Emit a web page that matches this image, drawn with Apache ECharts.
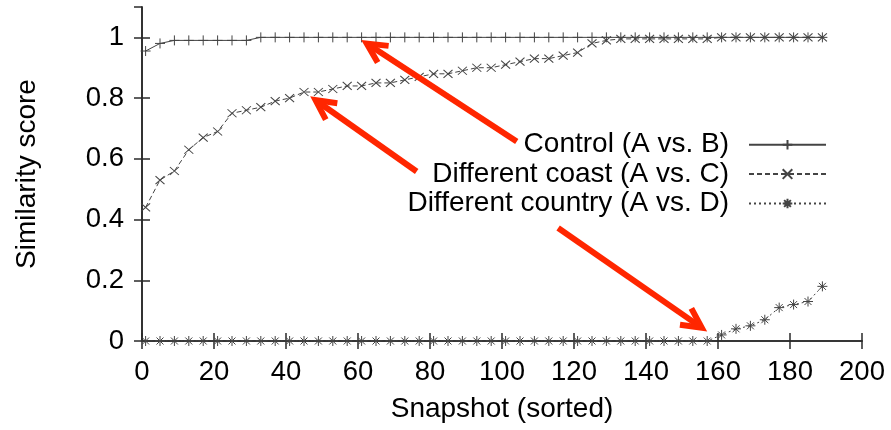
<!DOCTYPE html>
<html>
<head>
<meta charset="utf-8">
<script src="https://cdn.jsdelivr.net/npm/echarts@6/dist/echarts.min.js"></script>
<style>
html,body{margin:0;padding:0;background:#fff;}
#chart{width:891px;height:430px;}
</style>
</head>
<body>
<div id="chart"></div>
<script>
// ---- data ----
const snapshots = [1,5,9,13,17,21,25,29,33,37,41,45,49,53,57,61,65,69,73,77,81,85,89,93,97,101,105,109,113,117,121,125,129,133,137,141,145,149,153,157,161,165,169,173,177,181,185,189];
const controlAB = [0.955,0.98,0.99,0.99,0.99,0.99,0.99,0.99,1,1,
                   1,1,1,1,1,1,1,1,1,1,
                   1,1,1,1,1,1,1,1,1,1,
                   1,1,1,1,1,1,1,1,1,1,
                   1,1,1,1,1,1,1,1];
const coastAC = [0.44,0.53,0.56,0.63,0.67,0.69,0.75,0.76,0.77,0.79,
                 0.80,0.82,0.82,0.83,0.84,0.84,0.85,0.85,0.86,0.87,
                 0.88,0.88,0.89,0.90,0.90,0.91,0.92,0.93,0.93,0.94,
                 0.95,0.98,0.99,0.995,0.995,0.995,0.995,0.995,0.995,0.995,
                 1,1,1,1,1,1,1,1];
const countryAD = [0,0,0,0,0,0,0,0,0,0,
                   0,0,0,0,0,0,0,0,0,0,
                   0,0,0,0,0,0,0,0,0,0,
                   0,0,0,0,0,0,0,0,0,0,
                   0.02,0.04,0.05,0.07,0.11,0.12,0.13,0.18];
const seriesNames = ['Control (A vs. B)','Different coast (A vs. C)','Different country (A vs. D)'];
const xTicks = {min:0, max:200, interval:20};
const yTicks = {min:0, max:1.1, interval:0.2};
// annotation arrows in data space: [tailX, tailY, tipX, tipY]
const arrows = [
  [104.1, 0.657, 61.5, 0.987],
  [76.3, 0.558, 47.3, 0.801],
  [115.6, 0.372, 156.4, 0.036]
];

// ---- chart ----
const FONT = '"Liberation Sans", Arial, Helvetica, sans-serif';
const AX = '#2a2a2a';
const LINE = '#444';
const chart = echarts.init(document.getElementById('chart'), null, {renderer:'canvas'});

function pairs(ys){ return snapshots.map((x,i)=>[x, ys[i]]); }

const symPlus = 'path://M5,0L5,10M0,5L10,5';
const symCross = 'path://M0,0L10,10M10,0L0,10';
const symStar = 'path://M5,0L5,10M0,5L10,5M1.5,1.5L8.5,8.5M8.5,1.5L1.5,8.5';

function mkSeries(name, ys, sym, size, dash){
  return {
    name, type:'line', data: pairs(ys), xAxisIndex:0, yAxisIndex:0,
    symbol: sym, symbolSize: size, showSymbol:true, animation:false,
    lineStyle:{color:LINE, width:1, type: dash},
    itemStyle:{color:'rgba(0,0,0,0)', borderColor:'#444', borderWidth:1},
    emphasis:{disabled:true}
  };
}

const tickStyle = {show:true, inside:true, length:8, lineStyle:{color:AX, width:1.5}};
const lineStyleAx = {show:true, lineStyle:{color:AX, width:1.6}};

const option = {
  backgroundColor:'#fff',
  animation:false,
  grid:{left:142, right:29, top:7, bottom:89, containLabel:false},
  xAxis:[
    {type:'value', position:'bottom', min:xTicks.min, max:xTicks.max, interval:xTicks.interval,
     axisLine:lineStyleAx, axisTick:tickStyle, splitLine:{show:false},
     axisLabel:{color:'#000', fontSize:27.5, fontFamily:FONT, margin:17},
     name:'Snapshot (sorted)', nameLocation:'middle', nameGap:54,
     nameTextStyle:{color:'#000', fontSize:28, fontFamily:FONT}},
    {type:'value', position:'top', min:xTicks.min, max:xTicks.max, interval:xTicks.interval,
     axisLine:lineStyleAx, axisTick:tickStyle, splitLine:{show:false}, axisLabel:{show:false}}
  ],
  yAxis:[
    {type:'value', position:'left', min:yTicks.min, max:yTicks.max, interval:yTicks.interval,
     axisLine:lineStyleAx, axisTick:tickStyle, splitLine:{show:false},
     axisLabel:{color:'#000', fontSize:27.5, fontFamily:FONT, margin:18, showMaxLabel:false},
     name:'Similarity score', nameLocation:'middle', nameGap:101, nameRotate:90,
     nameTextStyle:{color:'#000', fontSize:28, fontFamily:FONT}},
    {type:'value', position:'right', min:yTicks.min, max:yTicks.max, interval:yTicks.interval,
     axisLine:lineStyleAx, axisTick:tickStyle, splitLine:{show:false}, axisLabel:{show:false}}
  ],
  legend:{
    orient:'vertical', right:64, top:130, padding:0, itemGap:0, align:'right',
    itemWidth:77, itemHeight:12, selectedMode:false,
    textStyle:{color:'#000', fontSize:28, fontFamily:FONT, lineHeight:29.4, padding:[0,15,0,0]},
    data: seriesNames
  },
  series:[
    mkSeries(seriesNames[0], controlAB, symPlus, 10, 'solid'),
    mkSeries(seriesNames[1], coastAC, symCross, [9,8], [5,3]),
    mkSeries(seriesNames[2], countryAD, symStar, 10, [2,3])
  ]
};
chart.setOption(option);

// annotation arrows (anchored to data coordinates)
function arrowGraphics(){
  const els = [];
  const RED = '#ff2600';
  const W = 6, HEAD = 22, ANG = 27 * Math.PI/180;
  arrows.forEach(a=>{
    const t = chart.convertToPixel({gridIndex:0}, [a[0], a[1]]);
    const p = chart.convertToPixel({gridIndex:0}, [a[2], a[3]]);
    const back = Math.atan2(t[1]-p[1], t[0]-p[0]);
    const tip = [p[0] + Math.cos(back)*4, p[1] + Math.sin(back)*4];
    const w1 = [tip[0] + Math.cos(back+ANG)*HEAD, tip[1] + Math.sin(back+ANG)*HEAD];
    const w2 = [tip[0] + Math.cos(back-ANG)*HEAD, tip[1] + Math.sin(back-ANG)*HEAD];
    els.push({type:'polyline', z:100, silent:true,
      shape:{points:[t, [tip[0]+Math.cos(back)*2, tip[1]+Math.sin(back)*2]]},
      style:{stroke:RED, lineWidth:W, lineCap:'butt', fill:null}});
    els.push({type:'polyline', z:100, silent:true,
      shape:{points:[w1, tip, w2]},
      style:{stroke:RED, lineWidth:W, lineJoin:'miter', lineCap:'butt', fill:null}});
  });
  return els;
}
chart.setOption({graphic: arrowGraphics()});
</script>
</body>
</html>
